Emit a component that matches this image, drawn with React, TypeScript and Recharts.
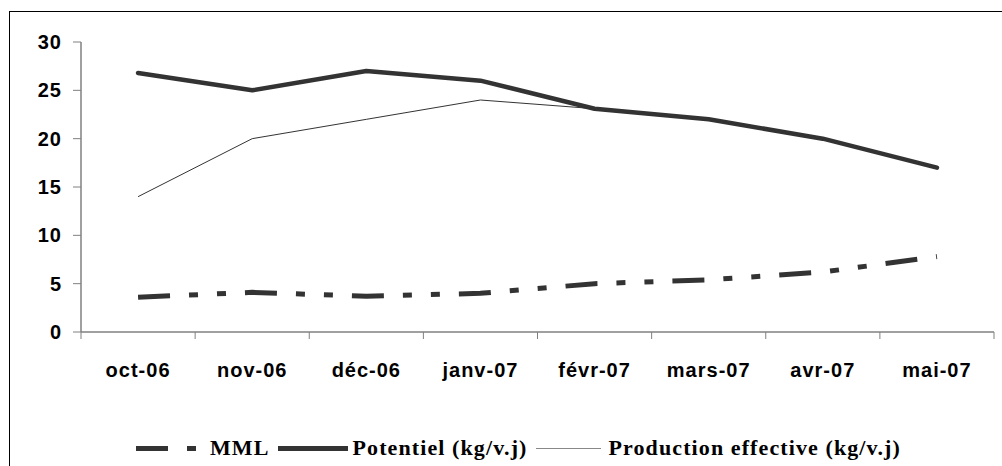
import React from 'react';
import { LineChart, Line, XAxis, YAxis, Legend } from 'recharts';

const months = ['oct-06', 'nov-06', 'déc-06', 'janv-07', 'févr-07', 'mars-07', 'avr-07', 'mai-07'];
const mml = [3.6, 4.1, 3.7, 4.0, 5.0, 5.4, 6.2, 7.8];
const potentiel = [26.8, 25.0, 27.0, 26.0, 23.1, 22.0, 20.0, 17.0];
const production = [14.0, 20.0, 22.0, 24.0, 23.1, 22.0, 20.0, 17.0];
const yTicks = [0, 5, 10, 15, 20, 25, 30];

// x sits in the middle of each category slot, ticks go on slot borders
const data = months.map((m, i) => ({
  x: i + 0.5,
  month: m,
  mml: mml[i],
  potentiel: potentiel[i],
  production: production[i],
}));
const xTicks = Array.from({ length: months.length * 2 + 1 }, (_, i) => i / 2);

const AXIS = '#808080';
const INK = '#333333';
const MML_DASH = '32 19 9 19 9 19';

const XTick = ({ x, y, payload }: any) => {
  const v = payload.value as number;
  if (Number.isInteger(v)) {
    return <line x1={x} x2={x} y1={y} y2={y + 7} stroke={AXIS} strokeWidth={1} />;
  }
  return (
    <text
      x={x}
      y={y + 38}
      textAnchor="middle"
      dominantBaseline="central"
      fontFamily="'Liberation Sans', Arial, sans-serif"
      fontWeight="bold"
      fontSize={20}
      letterSpacing={1}
      fill="#000"
    >
      {months[Math.floor(v)]}
    </text>
  );
};

const legendItems = [
  { name: 'MML', width: 62, strokeWidth: 5, dash: MML_DASH, color: INK, gap: 12 },
  { name: 'Potentiel (kg/v.j)', width: 70, strokeWidth: 5, dash: undefined, color: INK, gap: 5 },
  { name: 'Production effective (kg/v.j)', width: 65, strokeWidth: 1, dash: undefined, color: '#888', gap: 8 },
];

const CustomLegend = () => (
  <div style={{ display: 'flex', alignItems: 'center', height: 30, paddingLeft: 136 }}>
    {legendItems.map((it) => (
      <div key={it.name} style={{ display: 'flex', alignItems: 'center', marginRight: 8 }}>
        <svg width={it.width} height={10} style={{ marginRight: it.gap }}>
          <line
            x1={0}
            x2={it.width}
            y1={5.5}
            y2={5.5}
            stroke={it.color}
            strokeWidth={it.strokeWidth}
            strokeDasharray={it.dash}
          />
        </svg>
        <span
          style={{
            fontFamily: "'Liberation Serif', 'Times New Roman', serif",
            fontWeight: 'bold',
            fontSize: 22,
            letterSpacing: 1.1,
            color: '#000',
            whiteSpace: 'nowrap',
          }}
        >
          {it.name}
        </span>
      </div>
    ))}
  </div>
);

export default function App() {
  return (
    <div style={{ position: 'absolute', left: 0, top: 0, width: 1002, height: 466, background: '#fff', overflow: 'hidden' }}>
      <div
        style={{
          position: 'absolute',
          left: 9,
          top: 11,
          width: 1100,
          height: 600,
          borderTop: '1px solid #000',
          borderLeft: '1px solid #000',
        }}
      />
      <LineChart
        width={1002}
        height={466}
        data={data}
        margin={{ top: 42, right: 8, left: 0, bottom: 10 }}
        style={{ position: 'absolute', left: 0, top: 0 }}
      >
        <XAxis
          dataKey="x"
          type="number"
          domain={[0, 8]}
          ticks={xTicks}
          interval={0}
          tick={<XTick />}
          tickLine={false}
          tickSize={0}
          tickMargin={0}
          height={94}
          axisLine={{ stroke: AXIS, strokeWidth: 1.5 }}
        />
        <YAxis
          domain={[0, 30]}
          ticks={yTicks}
          interval={0}
          width={81}
          tickSize={8}
          tickMargin={11}
          axisLine={{ stroke: AXIS, strokeWidth: 1.5 }}
          tickLine={{ stroke: AXIS, strokeWidth: 1 }}
          tick={{
            fill: '#000',
            fontSize: 20,
            fontWeight: 'bold',
            fontFamily: "'Liberation Sans', Arial, sans-serif",
            letterSpacing: 1,
          }}
        />
        <Legend
          content={<CustomLegend />}
          wrapperStyle={{ left: 0, bottom: 3, width: 1002 }}
        />
        <Line
          dataKey="mml"
          name="MML"
          stroke={INK}
          strokeWidth={5}
          strokeDasharray={MML_DASH}
          dot={false}
          type="linear"
          isAnimationActive={false}
        />
        <Line
          dataKey="potentiel"
          name="Potentiel (kg/v.j)"
          stroke={INK}
          strokeWidth={4.5}
          strokeLinecap="round"
          strokeLinejoin="round"
          dot={false}
          type="linear"
          isAnimationActive={false}
        />
        <Line
          dataKey="production"
          name="Production effective (kg/v.j)"
          stroke={INK}
          strokeWidth={1}
          dot={false}
          type="linear"
          isAnimationActive={false}
        />
      </LineChart>
    </div>
  );
}
